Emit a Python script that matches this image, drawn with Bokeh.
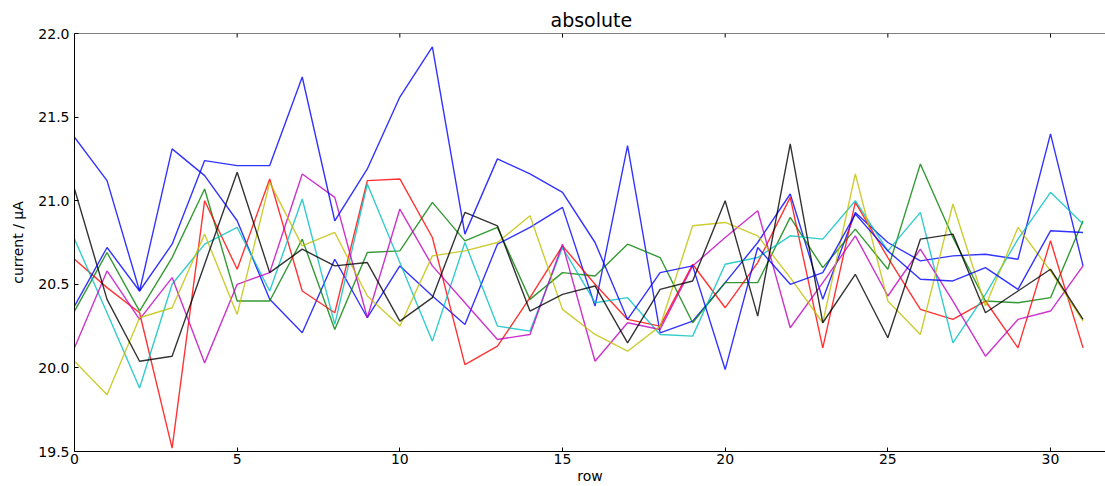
import math
from bokeh.plotting import figure
from bokeh.models import FixedTicker, Range1d, NumeralTickFormatter, Span
from bokeh.embed import file_html
from bokeh.resources import INLINE

rows = list(range(32))

blue_1 = [21.38, 21.12, 20.46, 21.31, 21.15, 20.88, 20.41, 20.21, 20.65, 20.30,
          20.61, 20.43, 20.26, 20.74, 20.84, 20.96, 20.37, 21.33, 20.21, 20.28,
          20.51, 20.75, 21.04, 20.41, 20.93, 20.75, 20.64, 20.67, 20.68, 20.65,
          21.40, 20.61]
green = [20.34, 20.69, 20.34, 20.66, 21.07, 20.40, 20.40, 20.77, 20.23, 20.69,
         20.70, 20.99, 20.76, 20.84, 20.41, 20.57, 20.55, 20.74, 20.66, 20.27,
         20.51, 20.51, 20.90, 20.60, 20.83, 20.59, 21.22, 20.78, 20.40, 20.39,
         20.42, 20.88]
red = [20.65, 20.48, 20.33, 19.52, 21.00, 20.59, 21.13, 20.46, 20.33, 21.12,
       21.13, 20.78, 20.02, 20.13, 20.42, 20.73, 20.50, 20.29, 20.25, 20.62,
       20.36, 20.63, 21.02, 20.12, 20.99, 20.66, 20.35, 20.29, 20.40, 20.12,
       20.76, 20.12]
cyan = [20.77, 20.33, 19.88, 20.50, 20.74, 20.84, 20.46, 21.01, 20.26, 21.10,
        20.63, 20.16, 20.75, 20.25, 20.22, 20.72, 20.39, 20.42, 20.20, 20.19,
        20.62, 20.66, 20.79, 20.77, 21.00, 20.70, 20.93, 20.15, 20.44, 20.77,
        21.05, 20.86]
magenta = [20.12, 20.58, 20.29, 20.54, 20.03, 20.50, 20.57, 21.16, 21.02, 20.30,
           20.95, 20.61, 20.39, 20.17, 20.20, 20.74, 20.04, 20.27, 20.23, 20.61,
           20.78, 20.94, 20.24, 20.51, 20.79, 20.43, 20.71, 20.40, 20.07, 20.29,
           20.34, 20.61]
yellow = [20.04, 19.84, 20.30, 20.36, 20.80, 20.32, 21.11, 20.73, 20.81, 20.43,
          20.25, 20.67, 20.70, 20.75, 20.91, 20.35, 20.20, 20.10, 20.25, 20.85,
          20.87, 20.79, 20.54, 20.27, 21.16, 20.40, 20.20, 20.98, 20.37, 20.84,
          20.58, 20.28]
black = [21.07, 20.41, 20.04, 20.07, 20.62, 21.17, 20.57, 20.71, 20.61, 20.63,
         20.28, 20.42, 20.93, 20.85, 20.34, 20.44, 20.49, 20.15, 20.47, 20.52,
         21.00, 20.31, 21.34, 20.27, 20.56, 20.18, 20.77, 20.80, 20.33, 20.46,
         20.59, 20.29]
blue_2 = [20.37, 20.72, 20.46, 20.74, 21.24, 21.21, 21.21, 21.74, 20.88, 21.19,
          21.62, 21.92, 20.80, 21.25, 21.16, 21.05, 20.75, 20.29, 20.57, 20.61,
          19.99, 20.72, 20.50, 20.57, 20.92, 20.70, 20.53, 20.52, 20.60, 20.47,
          20.82, 20.81]

series = [blue_1, green, red, cyan, magenta, yellow, black, blue_2]
colors = ["#0000ff", "#008000", "#ff0000", "#00bfbf", "#bf00bf", "#bfbf00",
          "#000000", "#0000ff"]

x_ticks = [0, 5, 10, 15, 20, 25, 30]
y_ticks = [19.5, 20.0, 20.5, 21.0, 21.5, 22.0]
y_top = 22.0

FONT = "DejaVu Sans"

p = figure(width=1105, height=486, output_backend="svg", toolbar_location=None,
           x_range=Range1d(0, 31.69), y_range=Range1d(19.5, y_top),
           title="absolute", min_border_left=74, min_border_right=0,
           min_border_top=33, min_border_bottom=34)

p.outline_line_color = None
p.xgrid.grid_line_color = None
p.ygrid.grid_line_color = None
p.background_fill_color = "white"
p.border_fill_color = "white"

p.title.align = "left"
p.title.offset = 476
p.title.text_font = FONT
p.title.text_font_size = "19px"
p.title.text_font_style = "normal"
p.title.text_color = "black"
p.title.standoff = 6

for ax in (p.xaxis[0], p.yaxis[0]):
    ax.axis_line_color = "black"
    ax.axis_line_width = 1
    ax.major_tick_in = 4
    ax.major_tick_out = 0
    ax.minor_tick_line_color = None
    ax.major_label_text_font = FONT
    ax.major_label_text_font_size = "14px"
    ax.major_label_text_color = "black"
    ax.axis_label_text_font = FONT
    ax.axis_label_text_font_size = "14px"
    ax.axis_label_text_font_style = "normal"
    ax.axis_label_text_color = "black"

p.xaxis.ticker = FixedTicker(ticks=x_ticks)
p.yaxis.ticker = FixedTicker(ticks=y_ticks)
p.yaxis.formatter = NumeralTickFormatter(format="0.0")
p.xaxis.axis_label = "row"
p.yaxis.axis_label = "current / µA"
p.xaxis.major_label_standoff = 2
p.xaxis.axis_label_standoff = 1
p.yaxis.major_label_standoff = 5
p.yaxis.axis_label_standoff = 9

# top spine and inward top ticks
p.add_layout(Span(location=y_top, dimension="width", line_color="black", line_width=1))
p.scatter(x_ticks, [y_top] * len(x_ticks), marker="dash", angle=math.pi / 2,
          size=8, line_color="black", line_width=1)

for vals, col in zip(series, colors):
    p.line(rows, vals, line_color=col, line_width=1.4, line_alpha=0.8)

open("out.html", "w").write(file_html(p, INLINE))
